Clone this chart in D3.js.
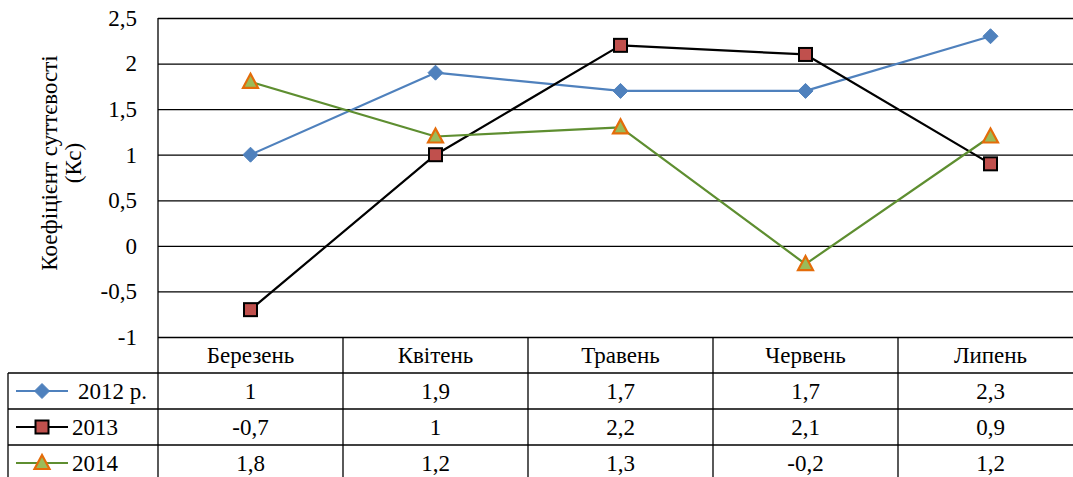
<!DOCTYPE html>
<html>
<head>
<meta charset="utf-8">
<script src="https://cdn.jsdelivr.net/npm/d3@7"></script>
<style>
  html, body { margin: 0; padding: 0; background: #fff; }
  svg { display: block; }
  svg text { font-family: "Liberation Serif", "Times New Roman", serif; fill: #000; }
</style>
</head>
<body>
<svg id="chart" width="1073" height="477"></svg>
<script>
// Months (columns of the data table)
const months = ["Березень", "Квітень", "Травень", "Червень", "Липень"];
// Series names shown in the legend cells
const seriesNames = ["2012 р.", "2013", "2014"];
// Values per series
const values2012 = [1, 1.9, 1.7, 1.7, 2.3];
const values2013 = [-0.7, 1, 2.2, 2.1, 0.9];
const values2014 = [1.8, 1.2, 1.3, -0.2, 1.2];
// Y axis ticks
const yTicks = [-1, -0.5, 0, 0.5, 1, 1.5, 2, 2.5];

const series = [
  { name: seriesNames[0], values: values2012, line: "#4F81BD", marker: "diamond", fill: "#4F81BD", stroke: "#4F81BD" },
  { name: seriesNames[1], values: values2013, line: "#000000", marker: "square", fill: "#C0504D", stroke: "#000000" },
  { name: seriesNames[2], values: values2014, line: "#5E8E30", marker: "triangle", fill: "#9BBB59", stroke: "#E46C0A" }
];

const FS = "23px";
const fmt = v => String(v).replace(".", ",");

const svg = d3.select("#chart");
const plotLeft = 158, plotRight = 1083, plotTop = 18, plotBottom = 337;
const rowH = 36, legendLeft = 8;

const x = d3.scaleBand().domain(months).range([plotLeft, plotRight]).padding(0);
const y = d3.scaleLinear().domain([-1, 2.5]).range([plotBottom, plotTop]);

// Horizontal gridlines + tick labels
const yAxis = d3.axisLeft(y)
  .tickValues(yTicks)
  .tickSize(-(plotRight - plotLeft))
  .tickPadding(21)
  .tickFormat(fmt);

const gy = svg.append("g")
  .attr("transform", `translate(${plotLeft},0)`)
  .call(yAxis);
gy.select(".domain").remove();
gy.selectAll(".tick line").attr("stroke", "#000").attr("stroke-width", 1.3);
gy.selectAll(".tick text")
  .style("font-family", "'Liberation Serif', 'Times New Roman', serif")
  .style("font-size", FS)
  .attr("fill", "#000");

// Vertical axis line running down through the table header
svg.append("line")
  .attr("x1", plotLeft).attr("x2", plotLeft)
  .attr("y1", plotTop).attr("y2", plotBottom + rowH * 4)
  .attr("stroke", "#000").attr("stroke-width", 1.3);

// Y axis title
const title = svg.append("text")
  .attr("transform", `translate(57,163) rotate(-90)`)
  .attr("text-anchor", "middle")
  .style("font-size", FS);
title.append("tspan").attr("x", 0).attr("dy", 0).text("Коефіцієнт  суттєвості");
title.append("tspan").attr("x", 0).attr("dy", 24).text("(Кс)");

// Data table
const table = svg.append("g");
// Header row (month names)
table.selectAll(".hdr")
  .data(months)
  .join("text")
  .attr("class", "hdr")
  .attr("x", d => x(d) + x.bandwidth() / 2)
  .attr("y", plotBottom + rowH / 2 + 8)
  .attr("text-anchor", "middle")
  .style("font-size", FS)
  .text(d => d);

// Horizontal table lines
for (let i = 1; i <= 3; i++) {
  table.append("line")
    .attr("x1", legendLeft).attr("x2", plotRight)
    .attr("y1", plotBottom + rowH * i).attr("y2", plotBottom + rowH * i)
    .attr("stroke", "#000").attr("stroke-width", 1.3);
}
// Vertical table lines
table.append("line")
  .attr("x1", legendLeft).attr("x2", legendLeft)
  .attr("y1", plotBottom + rowH).attr("y2", plotBottom + rowH * 4)
  .attr("stroke", "#000").attr("stroke-width", 1.3);
months.slice(1).forEach(m => {
  table.append("line")
    .attr("x1", x(m)).attr("x2", x(m))
    .attr("y1", plotBottom).attr("y2", plotBottom + rowH * 4)
    .attr("stroke", "#000").attr("stroke-width", 1.3);
});

function drawMarker(g, type, cx, cy, fill, stroke) {
  if (type === "diamond") {
    g.append("path")
      .attr("d", `M${cx},${cy - 7.5}L${cx + 7.5},${cy}L${cx},${cy + 7.5}L${cx - 7.5},${cy}Z`)
      .attr("fill", fill).attr("stroke", stroke).attr("stroke-width", 1);
  } else if (type === "square") {
    g.append("rect")
      .attr("x", cx - 6.5).attr("y", cy - 6.5).attr("width", 13).attr("height", 13)
      .attr("fill", fill).attr("stroke", stroke).attr("stroke-width", 2);
  } else {
    g.append("path")
      .attr("d", `M${cx},${cy - 8}L${cx + 7.5},${cy + 6}L${cx - 7.5},${cy + 6}Z`)
      .attr("fill", fill).attr("stroke", stroke).attr("stroke-width", 2.2)
      .attr("stroke-linejoin", "miter");
  }
}

// Series rows: legend key + values
series.forEach((s, i) => {
  const rowY = plotBottom + rowH * (i + 1);
  const cy = rowY + rowH / 2;
  const lg = table.append("g");
  lg.append("line")
    .attr("x1", 16).attr("x2", 68).attr("y1", cy).attr("y2", cy)
    .attr("stroke", s.line).attr("stroke-width", 2.2);
  drawMarker(lg, s.marker, 42, cy, s.fill, s.stroke);
  lg.append("text")
    .attr("x", i === 0 ? 78 : 72)
    .attr("y", cy + 8)
    .style("font-size", FS)
    .text(s.name);

  table.selectAll(`.val${i}`)
    .data(s.values)
    .join("text")
    .attr("class", `val${i}`)
    .attr("x", (d, j) => x(months[j]) + x.bandwidth() / 2)
    .attr("y", cy + 8)
    .attr("text-anchor", "middle")
    .style("font-size", FS)
    .text(fmt);
});

// Lines and markers
const line = d3.line()
  .x((d, j) => x(months[j]) + x.bandwidth() / 2)
  .y(d => y(d));

series.forEach(s => {
  const g = svg.append("g");
  g.append("path")
    .datum(s.values)
    .attr("d", line)
    .attr("fill", "none")
    .attr("stroke", s.line)
    .attr("stroke-width", 2.2)
    .attr("stroke-linejoin", "round");
  s.values.forEach((v, j) => {
    drawMarker(g, s.marker, x(months[j]) + x.bandwidth() / 2, y(v), s.fill, s.stroke);
  });
});
</script>
</body>
</html>
